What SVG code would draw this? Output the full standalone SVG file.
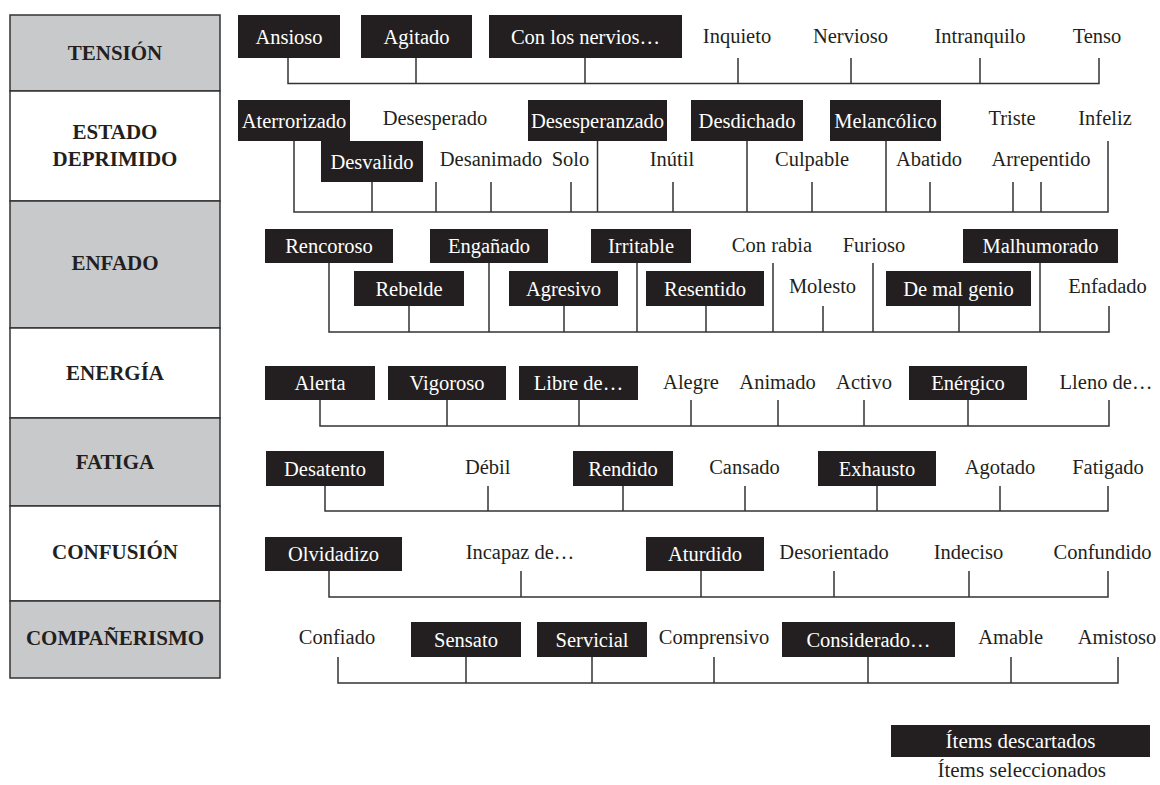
<svg xmlns="http://www.w3.org/2000/svg" width="1160" height="785" viewBox="0 0 1160 785">
<style>
.cat{stroke:#333;stroke-width:1.5}
.g{fill:#c8c9cb}
.w{fill:#fff}
.lbl{font-family:"Liberation Serif","Times New Roman",serif;font-weight:bold;font-size:21px;fill:#231f20;text-anchor:middle}
.b{fill:#231f20}
.t{font-family:"Liberation Serif","Times New Roman",serif;font-size:20.5px;text-anchor:middle}
.lg{font-size:21px}
.tw{fill:#fff}
.tb{fill:#231f20}
.c{fill:none;stroke:#333;stroke-width:1.5}
</style>
<rect width="1160" height="785" fill="#fff"/>
<g id="categories">
<g id="cat-tension"><rect class="cat g" x="10" y="15" width="210" height="76"/><text class="lbl" x="115" y="60">TENSIÓN</text></g>
<g id="cat-deprimido"><rect class="cat w" x="10" y="91" width="210" height="110"/><text class="lbl" x="115" y="139">ESTADO</text><text class="lbl" x="115" y="166">DEPRIMIDO</text></g>
<g id="cat-enfado"><rect class="cat g" x="10" y="201" width="210" height="127"/><text class="lbl" x="115" y="270">ENFADO</text></g>
<g id="cat-energia"><rect class="cat w" x="10" y="328" width="210" height="90"/><text class="lbl" x="115" y="380">ENERGÍA</text></g>
<g id="cat-fatiga"><rect class="cat g" x="10" y="418" width="210" height="88"/><text class="lbl" x="115" y="469">FATIGA</text></g>
<g id="cat-confusion"><rect class="cat w" x="10" y="506" width="210" height="95"/><text class="lbl" x="115" y="559">CONFUSIÓN</text></g>
<g id="cat-companerismo"><rect class="cat g" x="10" y="601" width="210" height="77"/><text class="lbl" x="115" y="645">COMPAÑERISMO</text></g>
</g>
<g id="connectors">
<path class="c" d="M288,58V83.5H1099V58M416,58V83.5M585,58V83.5M738,58V83.5M851,58V83.5M980,58V83.5"/>
<path class="c" d="M294,141V212H1108V141M372,182V212M436,182V212M491,182V212M571,182V212M597.5,141V212M673,182V212M747,141V212M812,182V212M886,141V212M930,182V212M1013,182V212M1041,182V212"/>
<path class="c" d="M329,263V332H1109V306M409,306V332M489,263V332M564,306V332M637,263V332M706,306V332M773,263V332M823,306V332M873,263V332M959,306V332M1040,263V332"/>
<path class="c" d="M320,400V426H1109V400M447,400V426M579,400V426M691,400V426M778,400V426M864,400V426M968,400V426"/>
<path class="c" d="M325,486V511H1108V486M488,486V511M623,486V511M745,486V511M877,486V511M1000,486V511"/>
<path class="c" d="M329,571V597H1108V571M521,571V597M701,571V597M834,571V597M969,571V597"/>
<path class="c" d="M338,657V683H1118V657M466,657V683M592,657V683M714,657V683M868,657V683M1011,657V683"/>
</g>
<g id="row-tension">
<g id="n-ansioso"><rect class="b" x="238" y="15" width="102" height="43"/><text class="t tw" x="289" y="43.5">Ansioso</text></g>
<g id="n-agitado"><rect class="b" x="361" y="15" width="111" height="43"/><text class="t tw" x="416.5" y="43.5">Agitado</text></g>
<g id="n-nervios"><rect class="b" x="489" y="15" width="193" height="43"/><text class="t tw" x="585.5" y="43.5">Con los nervios…</text></g>
<g id="n-inquieto"><text class="t tb" x="737" y="43">Inquieto</text></g>
<g id="n-nervioso"><text class="t tb" x="850.5" y="43">Nervioso</text></g>
<g id="n-intranquilo"><text class="t tb" x="980" y="43">Intranquilo</text></g>
<g id="n-tenso"><text class="t tb" x="1097" y="43">Tenso</text></g>
</g>
<g id="row-deprimido">
<g id="n-aterrorizado"><rect class="b" x="238" y="100" width="112" height="41"/><text class="t tw" x="294" y="128">Aterrorizado</text></g>
<g id="n-desesperado"><text class="t tb" x="435" y="125">Desesperado</text></g>
<g id="n-desesperanzado"><rect class="b" x="528" y="100" width="139" height="41"/><text class="t tw" x="597.5" y="128">Desesperanzado</text></g>
<g id="n-desdichado"><rect class="b" x="691" y="100" width="112" height="41"/><text class="t tw" x="747" y="128">Desdichado</text></g>
<g id="n-melancolico"><rect class="b" x="830" y="100" width="111" height="41"/><text class="t tw" x="885.5" y="128">Melancólico</text></g>
<g id="n-triste"><text class="t tb" x="1012" y="125">Triste</text></g>
<g id="n-infeliz"><text class="t tb" x="1105" y="125">Infeliz</text></g>
<g id="n-desvalido"><rect class="b" x="321" y="141" width="102" height="41"/><text class="t tw" x="372" y="168.5">Desvalido</text></g>
<g id="n-desanimado"><text class="t tb" x="491" y="166">Desanimado</text></g>
<g id="n-solo"><text class="t tb" x="570.5" y="166">Solo</text></g>
<g id="n-inutil"><text class="t tb" x="672" y="166">Inútil</text></g>
<g id="n-culpable"><text class="t tb" x="812" y="166">Culpable</text></g>
<g id="n-abatido"><text class="t tb" x="929" y="166">Abatido</text></g>
<g id="n-arrepentido"><text class="t tb" x="1041" y="166">Arrepentido</text></g>
</g>
<g id="row-enfado">
<g id="n-rencoroso"><rect class="b" x="265" y="229" width="128" height="34"/><text class="t tw" x="329" y="253">Rencoroso</text></g>
<g id="n-enganado"><rect class="b" x="430" y="229" width="118" height="34"/><text class="t tw" x="489" y="253">Engañado</text></g>
<g id="n-irritable"><rect class="b" x="591" y="229" width="100" height="34"/><text class="t tw" x="641" y="253">Irritable</text></g>
<g id="n-conrabia"><text class="t tb" x="772" y="252">Con rabia</text></g>
<g id="n-furioso"><text class="t tb" x="874" y="252">Furioso</text></g>
<g id="n-malhumorado"><rect class="b" x="963" y="229" width="155" height="34"/><text class="t tw" x="1040.5" y="253">Malhumorado</text></g>
<g id="n-rebelde"><rect class="b" x="354" y="271" width="110" height="35"/><text class="t tw" x="409" y="295.5">Rebelde</text></g>
<g id="n-agresivo"><rect class="b" x="509" y="271" width="109" height="35"/><text class="t tw" x="563.5" y="295.5">Agresivo</text></g>
<g id="n-resentido"><rect class="b" x="646" y="271" width="118" height="35"/><text class="t tw" x="705" y="295.5">Resentido</text></g>
<g id="n-molesto"><text class="t tb" x="822.5" y="293">Molesto</text></g>
<g id="n-demalgenio"><rect class="b" x="886" y="271" width="145" height="35"/><text class="t tw" x="958.5" y="295.5">De mal genio</text></g>
<g id="n-enfadado"><text class="t tb" x="1107.5" y="293">Enfadado</text></g>
</g>
<g id="row-energia">
<g id="n-alerta"><rect class="b" x="265" y="366" width="110" height="34"/><text class="t tw" x="320" y="390">Alerta</text></g>
<g id="n-vigoroso"><rect class="b" x="388" y="366" width="118" height="34"/><text class="t tw" x="447" y="390">Vigoroso</text></g>
<g id="n-libre"><rect class="b" x="519" y="366" width="119" height="34"/><text class="t tw" x="578.5" y="390">Libre de…</text></g>
<g id="n-alegre"><text class="t tb" x="691" y="389">Alegre</text></g>
<g id="n-animado"><text class="t tb" x="777.5" y="389">Animado</text></g>
<g id="n-activo"><text class="t tb" x="864" y="389">Activo</text></g>
<g id="n-energico"><rect class="b" x="909" y="366" width="118" height="34"/><text class="t tw" x="968" y="390">Enérgico</text></g>
<g id="n-lleno"><text class="t tb" x="1106" y="389">Lleno de…</text></g>
</g>
<g id="row-fatiga">
<g id="n-desatento"><rect class="b" x="266" y="451" width="118" height="35"/><text class="t tw" x="325" y="475.5">Desatento</text></g>
<g id="n-debil"><text class="t tb" x="487.7" y="474">Débil</text></g>
<g id="n-rendido"><rect class="b" x="573" y="451" width="100" height="35"/><text class="t tw" x="623" y="475.5">Rendido</text></g>
<g id="n-cansado"><text class="t tb" x="744.5" y="474">Cansado</text></g>
<g id="n-exhausto"><rect class="b" x="818" y="451" width="118" height="35"/><text class="t tw" x="877" y="475.5">Exhausto</text></g>
<g id="n-agotado"><text class="t tb" x="1000" y="474">Agotado</text></g>
<g id="n-fatigado"><text class="t tb" x="1108" y="474">Fatigado</text></g>
</g>
<g id="row-confusion">
<g id="n-olvidadizo"><rect class="b" x="265" y="537" width="137" height="34"/><text class="t tw" x="333.5" y="561">Olvidadizo</text></g>
<g id="n-incapaz"><text class="t tb" x="520" y="559">Incapaz de…</text></g>
<g id="n-aturdido"><rect class="b" x="646" y="537" width="118" height="34"/><text class="t tw" x="705" y="561">Aturdido</text></g>
<g id="n-desorientado"><text class="t tb" x="834" y="559">Desorientado</text></g>
<g id="n-indeciso"><text class="t tb" x="968.5" y="559">Indeciso</text></g>
<g id="n-confundido"><text class="t tb" x="1102.5" y="559">Confundido</text></g>
</g>
<g id="row-companerismo">
<g id="n-confiado"><text class="t tb" x="337" y="644">Confiado</text></g>
<g id="n-sensato"><rect class="b" x="411" y="622" width="110" height="35"/><text class="t tw" x="466" y="646.5">Sensato</text></g>
<g id="n-servicial"><rect class="b" x="537" y="622" width="110" height="35"/><text class="t tw" x="592" y="646.5">Servicial</text></g>
<g id="n-comprensivo"><text class="t tb" x="714" y="644">Comprensivo</text></g>
<g id="n-considerado"><rect class="b" x="782" y="622" width="173" height="35"/><text class="t tw" x="868.5" y="646.5">Considerado…</text></g>
<g id="n-amable"><text class="t tb" x="1010.7" y="644">Amable</text></g>
<g id="n-amistoso"><text class="t tb" x="1117" y="644">Amistoso</text></g>
</g>
<g id="legend">
<g id="legend-descartados"><rect class="b" x="891" y="725" width="259" height="32"/><text class="t lg tw" x="1020.5" y="747.5">Ítems descartados</text></g>
<g id="legend-seleccionados"><text class="t lg tb" x="1021.7" y="777">Ítems seleccionados</text></g>
</g>
</svg>
